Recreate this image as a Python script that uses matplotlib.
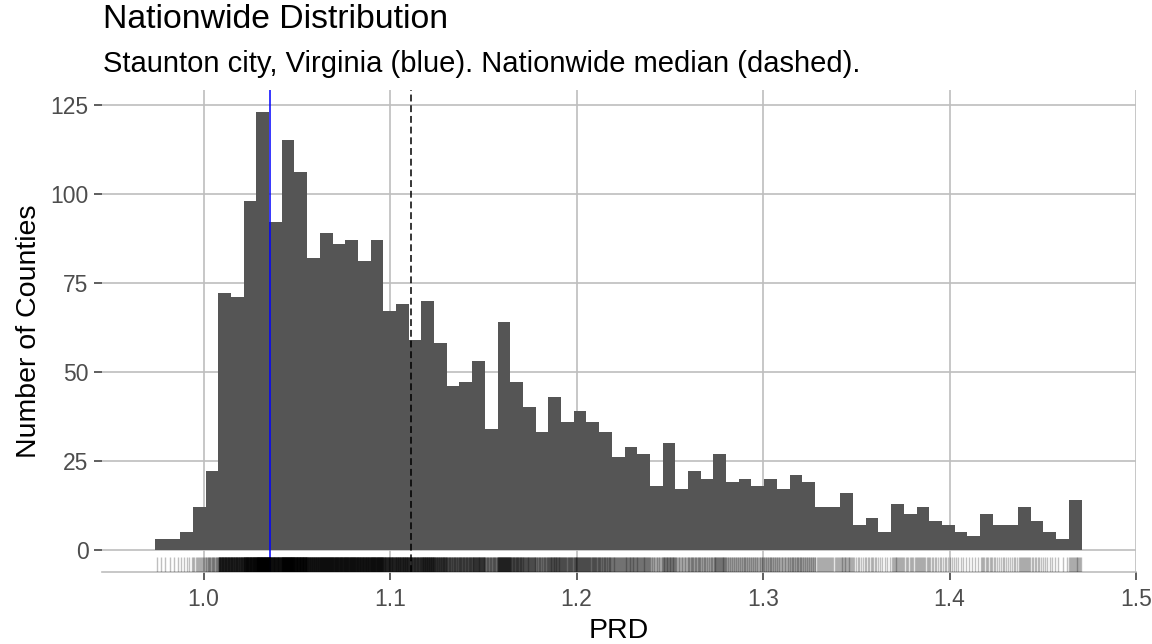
import matplotlib
matplotlib.use("Agg")
import matplotlib.pyplot as plt
import numpy as np

# histogram of county PRD values (73 equal bins)
bin_start = 0.9738
bin_end = 1.4708
counts = [3, 3, 5, 12, 22, 72, 71, 98, 123, 92,
          115, 106, 82, 89, 86, 87, 81, 87, 67, 69,
          59, 70, 58, 46, 47, 53, 34, 64, 47, 40,
          33, 43, 36, 39, 36, 33, 26, 29, 27, 18,
          30, 17, 22, 20, 27, 19, 20, 18, 20, 17,
          21, 19, 12, 12, 16, 7, 9, 5, 13, 10,
          12, 8, 7, 5, 4, 10, 7, 7, 12, 8,
          5, 3, 14]
county_value = 1.0357   # Staunton city, Virginia
median_value = 1.1114   # nationwide median

x_ticks = [1.0, 1.1, 1.2, 1.3, 1.4, 1.5]
y_ticks = [0, 25, 50, 75, 100, 125]

title = "Nationwide Distribution"
subtitle = "Staunton city, Virginia (blue). Nationwide median (dashed)."

plt.rcParams['font.family'] = ['Liberation Sans', 'DejaVu Sans']

edges = np.linspace(bin_start, bin_end, len(counts) + 1)
widths = np.diff(edges)

# one rug tick per county, spread evenly across its bin
rug = np.concatenate([
    edges[i] + (np.arange(c) + 0.5) / c * widths[i]
    for i, c in enumerate(counts) if c > 0
])

W, H = 1152, 644
fig = plt.figure(figsize=(W / 100, H / 100), dpi=100)
ax = fig.add_axes([102 / W, 1 - 571.7 / H, (1136 - 102) / W, (571.7 - 90) / H])

grid_col = '#BEBEBE'
ax.set_axisbelow(True)
ax.grid(True, color=grid_col, linewidth=1.2)

ax.bar(edges[:-1], counts, width=widths, align='edge',
       color='#555555', linewidth=0, zorder=2)

ax.axvline(county_value, color='#0000FF', linewidth=1.1, zorder=3)
ax.axvline(median_value, color='black', linewidth=1.1,
           linestyle=(0, (4.5, 2.5)), zorder=3)

# rug along the bottom of the panel
ax.vlines(rug, 0, 0.03, transform=ax.get_xaxis_transform(),
          color='black', alpha=0.25, linewidth=1.0, zorder=4)

ax.set_xlim(0.9455, 1.5)
ax.set_ylim(-6.15, 129.15)
ax.set_xticks(x_ticks)
ax.set_xticklabels([f"{v:.1f}" for v in x_ticks])
ax.set_yticks(y_ticks)

for s in ['top', 'right', 'left']:
    ax.spines[s].set_visible(False)
ax.spines['bottom'].set_color(grid_col)
ax.spines['bottom'].set_linewidth(1.2)

ax.tick_params(axis='both', colors='#333333', labelcolor='#4D4D4D',
               labelsize=16.5, length=5.8, width=1.1)
ax.tick_params(axis='x', pad=6)
ax.tick_params(axis='y', pad=4)

ax.set_xlabel("PRD", fontsize=20.5, labelpad=5)
ax.set_ylabel("Number of Counties", fontsize=20.5, labelpad=6)

fig.text(103 / W, 1 - 28 / H, title, fontsize=24.3, ha='left', va='baseline')
fig.text(103 / W, 1 - 72.5 / H, subtitle, fontsize=21, ha='left', va='baseline')

fig.savefig("out.png", dpi=100)
